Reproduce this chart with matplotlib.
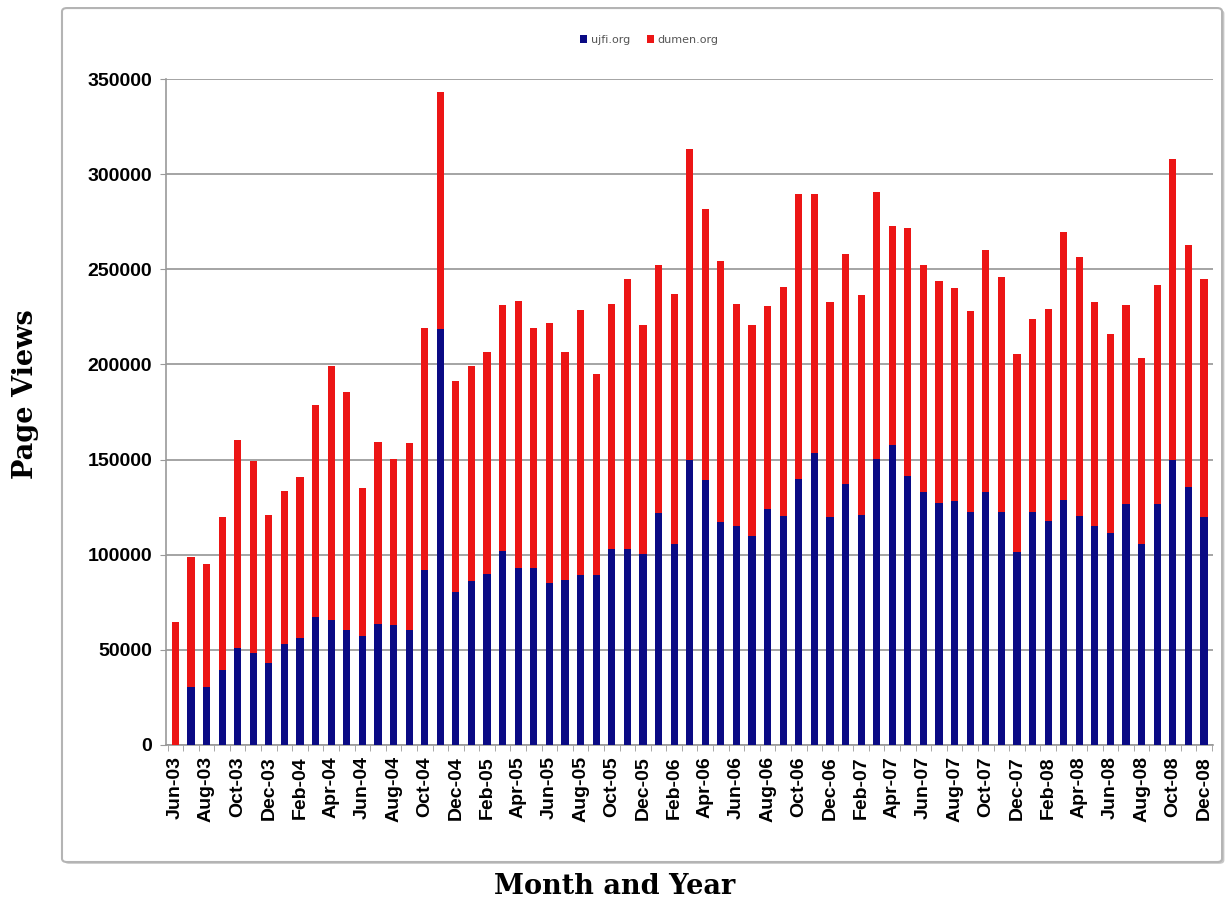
import numpy as np
import pandas as pd
import matplotlib
matplotlib.use('Agg')
import matplotlib.pyplot as plt
from matplotlib.patches import FancyBboxPatch, Patch


# monthly page views, Jun-03 .. Dec-08
months = pd.date_range('2003-06-01', periods=67, freq='MS').strftime('%b-%y').tolist()

ujfi = [0, 30500, 30500, 39500, 51000, 48200, 43000, 52900, 56400, 67400,
        65800, 60600, 57500, 63400, 63000, 60600, 92100, 218500, 80300, 86400,
        90000, 101700, 92800, 92800, 85000, 86900, 89300, 89300, 102900, 102900,
        100500, 121700, 105700, 149900, 139100, 117000, 115100, 109900, 124000, 120300,
        139800, 153200, 119800, 137400, 121000, 150300, 157400, 141400, 132700, 127300,
        128000, 122600, 132700, 122600, 101500, 122600, 117500, 128500, 120300, 115100,
        111600, 126800, 105700, 126800, 149600, 135800, 119800]

dumen = [64600, 68200, 64600, 80300, 109200, 101000, 78000, 80500, 84600, 111100,
         133400, 125000, 77600, 95600, 87300, 98000, 127100, 124900, 111100, 112800,
         116700, 129700, 140500, 126100, 137000, 119800, 139300, 105700, 128900, 141900,
         120300, 130800, 131500, 163200, 142800, 137200, 116700, 110900, 106700, 120500,
         149800, 136400, 112800, 120500, 115500, 140300, 115500, 130400, 119300, 116300,
         112300, 105300, 127600, 123300, 104000, 101300, 111500, 140900, 136400, 117900,
         104500, 104600, 97500, 114700, 158100, 126800, 125200]

y_ticks = [0, 50000, 100000, 150000, 200000, 250000, 300000, 350000]

blue = '#0a0a84'
red = '#ec1515'

fig = plt.figure(figsize=(12.25, 9.05), dpi=100)

# chart frame with a little shadow (kept behind the axes)
shadow = FancyBboxPatch((0.0525, 0.0455), 0.947, 0.9436, transform=fig.transFigure,
                        boxstyle='round,pad=0,rounding_size=0.004',
                        facecolor='#c8c8c8', edgecolor='none', zorder=-2)
frame = FancyBboxPatch((0.0506, 0.0475), 0.947, 0.9436, transform=fig.transFigure,
                       boxstyle='round,pad=0,rounding_size=0.004',
                       facecolor='white', edgecolor='#b4b4b4', linewidth=1.5, zorder=-1)
fig.patches.extend([shadow, frame])

ax = fig.add_axes([0.1355, 0.1768, 0.855, 0.7359])
ax.set_zorder(2)
ax.set_facecolor('none')

x = np.arange(len(months))
ax.bar(x, ujfi, width=0.46, color=blue, zorder=3)
ax.bar(x, dumen, width=0.46, bottom=ujfi, color=red, zorder=3)

ax.set_xlim(-0.6, len(months) - 0.4)
ax.set_ylim(0, 350000)
ax.set_yticks(y_ticks)
ax.set_yticklabels([str(v) for v in y_ticks])
ax.yaxis.grid(True, color='#8c8c8c', linewidth=1.1, zorder=0)
ax.set_axisbelow(True)

ax.set_xticks(x[::2])
ax.set_xticklabels(months[::2], rotation=90)
ax.set_xticks(np.arange(len(months) + 1) - 0.5, minor=True)
ax.tick_params(axis='x', which='major', length=0, pad=8)
ax.tick_params(axis='x', which='minor', length=4, color='#999999')
ax.tick_params(axis='y', length=4, color='#999999', pad=6)

for lab in ax.get_xticklabels() + ax.get_yticklabels():
    lab.set_fontfamily('Liberation Sans')
    lab.set_fontweight('bold')
    lab.set_fontsize(14)

for side in ['top', 'right']:
    ax.spines[side].set_visible(False)
for side in ['left', 'bottom']:
    ax.spines[side].set_color('#999999')
    ax.spines[side].set_linewidth(1.2)

handles = [Patch(facecolor=blue), Patch(facecolor=red)]
fig.legend(handles, ['ujfi.org', 'dumen.org'], loc='center', bbox_to_anchor=(0.53, 0.956),
           ncol=2, frameon=False, fontsize=8, handlelength=0.7, handleheight=0.7,
           handletextpad=0.3, columnspacing=1.5, labelcolor='#555555')

fig.text(0.021, 0.565, 'Page Views', rotation=90, ha='center', va='center',
         family='DejaVu Serif', fontweight='bold', fontsize=19.5)
fig.text(0.502, 0.02, 'Month and Year', ha='center', va='center',
         family='DejaVu Serif', fontweight='bold', fontsize=19.5)

fig.savefig('out.png', dpi=100)
